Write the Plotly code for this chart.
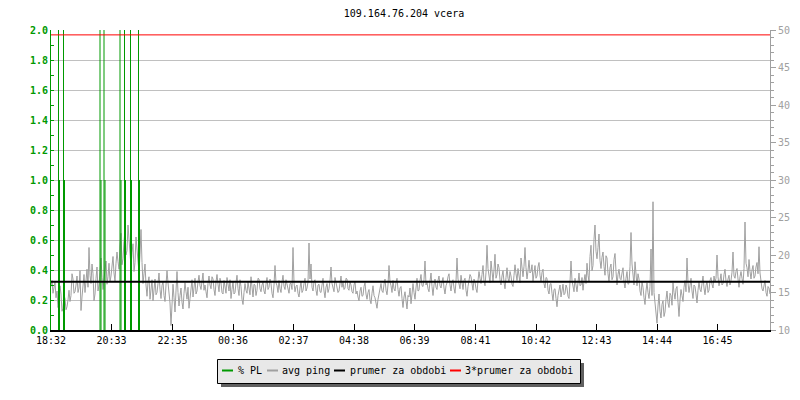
import plotly.graph_objects as go
import pandas as pd

# ---------------- data ----------------
title_text = "109.164.76.204 vcera"
range_start = "2024-01-01 18:32"
range_end = "2024-01-02 18:30"
tick_labels = ["18:32", "20:33", "22:35", "00:36", "02:37", "04:38",
               "06:39", "08:41", "10:42", "12:43", "14:44", "16:45"]

ping_step_min = 2  # one reading every 2 minutes from range_start (ms)
ping_ms = [
    15.8, 16.6, 14.9, 15.5, 16.4, 14.3, 15.2, 13.0, 13.6, 15.9, 14.8, 12.5, 12.9, 14.6, 14.2, 12.7, 13.1, 14.0, 15.3, 13.8, 14.6, 17.5, 16.8, 14.9, 15.1, 16.0, 17.2, 15.0, 15.6, 17.9,
    12.6, 14.4, 16.3, 17.4, 15.0, 16.6, 18.1, 15.7, 21.0, 17.3, 16.2, 18.8, 17.5, 13.9, 14.8, 16.9, 18.4, 15.2, 16.0, 17.7, 19.6, 17.0, 15.4, 16.8, 17.8, 19.2, 16.1, 17.1, 18.9, 16.4,
    17.2, 18.5, 19.8, 17.6, 16.5, 18.9, 20.4, 19.1, 18.1, 21.2, 22.9, 18.7, 19.5, 21.8, 23.3, 20.0, 20.6, 24.0, 22.1, 19.4, 18.4, 20.3, 21.5, 17.8, 19.0, 22.4, 20.7, 18.2, 17.6, 20.1,
    23.4, 19.0, 16.2, 17.5, 18.8, 16.0, 14.5, 16.4, 17.1, 14.1, 15.3, 16.7, 13.9, 15.5, 16.8, 14.7, 15.0, 16.2, 17.6, 15.4, 14.2, 15.9, 16.5, 14.6, 13.8, 16.0, 17.9, 16.3, 15.2, 13.6,
    10.6, 13.5, 16.1, 14.3, 12.4, 15.2, 17.8, 15.0, 13.2, 14.6, 15.6, 13.7, 12.8, 14.9, 16.3, 15.1, 14.1, 15.7, 12.9, 14.2, 15.8, 16.7, 14.4, 15.5, 16.9, 14.8, 15.2, 16.4, 17.3, 15.9,
    15.4, 16.5, 17.6, 15.3, 16.0, 15.1, 14.3, 16.2, 17.2, 16.0, 15.5, 17.1, 16.8, 15.4, 14.6, 16.4, 17.4, 16.1, 15.1, 16.9, 16.3, 15.0, 14.8, 16.6, 15.9, 14.9, 17.0, 16.2, 15.2, 16.7,
    14.2, 15.4, 16.5, 14.8, 15.0, 16.3, 17.3, 15.5, 14.6, 16.7, 15.8, 14.1, 13.4, 15.0, 16.2, 15.3, 14.9, 16.4, 15.6, 14.7, 17.1, 15.8, 14.4, 16.1, 16.0, 14.6, 15.3, 16.9, 16.8, 15.5,
    15.1, 16.0, 16.4, 15.2, 14.8, 16.1, 17.0, 15.4, 15.7, 16.8, 16.2, 14.9, 14.3, 16.0, 18.6, 16.3, 15.9, 15.0, 16.6, 15.5, 15.0, 16.4, 17.3, 15.8, 15.4, 16.7, 16.1, 15.1, 14.9, 16.2,
    16.2, 15.4, 21.0, 16.3, 15.1, 15.8, 16.0, 14.9, 14.4, 15.6, 16.5, 15.0, 15.3, 16.2, 16.9, 15.2, 15.6, 16.4, 21.6, 16.8, 18.8, 15.7, 15.2, 16.5, 16.7, 15.3, 14.6, 16.0, 16.1, 15.1,
    15.0, 16.0, 16.9, 15.2, 14.3, 15.7, 16.2, 15.0, 15.5, 16.6, 18.4, 16.2, 15.8, 15.1, 17.0, 16.3, 16.1, 15.0, 15.2, 16.5, 17.2, 15.7, 16.4, 15.4, 15.6, 16.9, 16.8, 15.5, 15.3, 16.4,
    16.0, 15.1, 14.9, 16.0, 16.5, 14.8, 15.2, 14.4, 13.9, 15.2, 15.7, 14.5, 14.6, 15.8, 16.3, 14.8, 14.1, 15.0, 15.4, 14.0, 13.5, 14.9, 15.9, 14.6, 14.3, 13.6, 12.9, 14.1, 14.8, 15.9,
    16.2, 15.2, 15.0, 16.1, 16.8, 15.3, 14.7, 16.0, 18.6, 16.4, 15.9, 15.0, 16.6, 15.5, 15.2, 16.3, 16.9, 15.4, 14.5, 15.6, 15.8, 14.2, 13.0, 14.4, 15.1, 13.9, 12.8, 14.6, 14.4, 15.6,
    13.5, 14.8, 16.2, 15.0, 14.1, 15.6, 16.9, 15.2, 15.3, 16.6, 17.4, 15.9, 15.8, 16.7, 19.2, 16.0, 16.4, 15.5, 15.1, 16.5, 17.6, 15.8, 14.6, 16.0, 16.8, 15.7, 15.4, 16.6, 17.2, 15.9,
    15.6, 16.4, 17.0, 15.6, 14.8, 15.9, 16.3, 17.1, 17.5, 16.0, 15.2, 16.4, 16.7, 15.6, 14.9, 16.5, 19.6, 16.8, 16.1, 15.5, 17.3, 16.2, 15.4, 16.6, 16.9, 15.3, 14.5, 15.8, 16.6, 17.4,
    17.1, 16.0, 15.3, 16.8, 16.4, 15.5, 15.0, 16.6, 17.8, 16.9, 16.2, 17.4, 18.6, 16.5, 15.9, 17.7, 21.3, 18.2, 17.0, 16.3, 19.2, 17.6, 16.5, 18.0, 20.1, 16.9, 17.4, 18.8, 18.3, 16.7,
    16.0, 17.2, 17.9, 16.4, 15.5, 17.0, 18.3, 16.9, 16.4, 17.8, 17.2, 16.1, 15.8, 17.3, 18.7, 17.5, 16.6, 18.2, 17.5, 16.3, 19.6, 18.1, 17.1, 18.5, 21.0, 18.3, 16.8, 17.9, 19.3, 17.6,
    17.8, 18.7, 16.5, 17.6, 18.6, 16.9, 17.2, 18.4, 19.0, 17.3, 16.4, 17.7, 18.1, 16.2, 15.6, 17.0, 16.9, 15.3, 14.8, 16.1, 16.2, 14.9, 13.9, 15.4, 15.5, 14.2, 13.1, 14.6, 15.2, 16.0,
    14.4, 15.3, 16.1, 14.7, 14.9, 16.0, 15.6, 14.5, 14.2, 16.4, 19.2, 16.6, 15.8, 15.1, 16.9, 15.6, 15.1, 16.3, 17.6, 15.9, 16.0, 17.0, 15.3, 16.5, 17.4, 16.2, 18.9, 17.3, 16.5, 19.8,
    21.3, 17.9, 18.6, 22.1, 24.0, 20.5, 19.5, 21.0, 22.8, 19.3, 18.2, 19.7, 20.4, 18.5, 17.3, 19.9, 19.6, 17.5, 16.4, 18.3, 18.8, 16.7, 17.1, 19.4, 20.2, 17.8, 16.0, 17.4, 18.1, 16.9,
    16.7, 17.6, 18.3, 16.4, 15.6, 16.9, 17.8, 16.1, 16.2, 18.5, 23.0, 18.8, 17.4, 16.0, 19.1, 17.2, 15.9, 17.5, 16.8, 15.2, 14.6, 16.4, 15.7, 14.3, 13.4, 15.2, 16.3, 15.0, 14.2, 15.8,
    20.8, 14.6, 27.1, 15.0, 13.5, 12.1, 10.9, 13.2, 14.8, 12.5, 11.6, 13.4, 13.9, 11.8, 12.4, 14.1, 15.2, 13.6, 13.0, 14.9, 14.6, 13.3, 16.3, 15.0, 14.1, 15.5, 15.8, 13.7, 11.8, 14.0,
    15.4, 14.6, 13.8, 15.7, 16.6, 15.1, 19.6, 16.3, 15.0, 15.9, 16.9, 15.2, 14.2, 16.0, 15.8, 14.8, 13.6, 15.3, 16.4, 15.4, 15.1, 16.2, 17.2, 15.6, 14.7, 15.9, 16.5, 15.0, 15.3, 16.6,
    17.0, 16.1, 15.6, 17.2, 16.4, 16.9, 20.0, 17.1, 15.9, 16.6, 17.5, 16.0, 16.2, 17.4, 18.1, 16.5, 15.8, 16.8, 17.3, 16.0, 16.6, 17.7, 20.4, 17.2, 16.9, 17.8, 18.2, 16.8, 15.7, 17.1,
    17.8, 16.9, 16.1, 18.2, 24.4, 18.9, 18.3, 17.1, 19.4, 17.8, 16.8, 18.0, 18.6, 16.9, 17.2, 18.4, 19.0, 17.5, 21.1, 17.6, 16.4, 15.5, 15.2, 16.3, 16.6, 15.0, 14.5, 15.8, 15.6, 14.8,
]

# packet-loss events: minute offset from range_start, loss value, value 2 minutes later
pl_minutes = [15, 25, 98, 106, 138, 147, 159, 175]
pl_first = [3.0, 3.0, 3.0, 3.0, 3.0, 3.0, 3.0, 3.0]
pl_next = [1.0, 1.0, 1.0, 1.0, 1.0, 1.0, 1.0, 1.0]

mean_ms = 16.45  # prumer za obdobi

legend_names = ["% PL", "avg ping", "prumer za obdobi", "3*prumer za obdobi"]
legend_colors = ["#009900", "#a0a0a0", "#000000", "#ff0000"]

# ---------------- derived ----------------
t0 = pd.Timestamp(range_start)
t1 = pd.Timestamp(range_end)
ping_x = [t0 + pd.Timedelta(minutes=ping_step_min * i) for i in range(len(ping_ms))]

tick_vals = []
for lab in tick_labels:
    h, m = map(int, lab.split(":"))
    dt = t0.normalize() + pd.Timedelta(hours=h, minutes=m)
    if dt < t0:
        dt += pd.Timedelta(days=1)
    tick_vals.append(dt)

pl_x, pl_y = [], []
for m, a, b in zip(pl_minutes, pl_first, pl_next):
    ta = t0 + pd.Timedelta(minutes=m)
    tb = t0 + pd.Timedelta(minutes=m + 2)
    pl_x += [ta, ta, None, tb, tb, None]
    pl_y += [0, a, None, 0, b, None]

MONO = "DejaVu Sans Mono"
OFF = 8  # default page body margin
W, H = 800 - OFF, 400 - OFF
L, R, T, B = 51 - OFF, 30, 30 - OFF, 70
PW, PH = W - L - R, H - T - B


def px(x):
    return (x - OFF - L) / PW


def py(y):
    return (H - B - (y - OFF)) / PH


fig = go.Figure()
fig.add_trace(go.Scatter(x=ping_x, y=ping_ms, mode="lines", yaxis="y",
                         line=dict(color="#a0a0a0", width=1), showlegend=False,
                         name="avg ping"))
fig.add_trace(go.Scatter(x=pl_x, y=pl_y, mode="lines", yaxis="y2",
                         line=dict(color="#009900", width=1), showlegend=False,
                         connectgaps=False, name="% PL"))
fig.add_trace(go.Scatter(x=[t0, t1], y=[mean_ms, mean_ms], mode="lines", yaxis="y3",
                         line=dict(color="#000000", width=2), showlegend=False,
                         name="prumer za obdobi"))
fig.add_trace(go.Scatter(x=[t0, t1], y=[3 * mean_ms, 3 * mean_ms], mode="lines", yaxis="y3",
                         line=dict(color="#ff0000", width=1), showlegend=False,
                         name="3*prumer za obdobi"))

fig.update_layout(
    width=W, height=H,
    margin=dict(l=L, r=R, t=T, b=B, autoexpand=False),
    paper_bgcolor="white", plot_bgcolor="white",
    showlegend=False,
    font=dict(family=MONO, size=10, color="black"),
    title=dict(text=title_text, x=0.5, xanchor="center", y=1 - (13 - OFF) / H, yanchor="middle",
               yref="container", font=dict(family=MONO, size=10, color="black")),
    xaxis=dict(type="date", range=[t0, t1], tickvals=tick_vals, ticktext=tick_labels,
               ticks="inside", ticklen=6, tickcolor="black", tickwidth=1,
               showline=True, linecolor="black", linewidth=2, showgrid=False,
               zeroline=False, automargin=False,
               tickfont=dict(family=MONO, size=10, color="black")),
    yaxis=dict(range=[10, 50], side="right", dtick=5, showgrid=False, zeroline=False,
               showline=True, linecolor="#a0a0a0", linewidth=1, automargin=False,
               ticks="outside", ticklen=5, tickcolor="#a0a0a0",
               minor=dict(dtick=1, ticks="outside", ticklen=3, tickcolor="#a0a0a0"),
               tickfont=dict(family=MONO, size=10, color="#a0a0a0")),
    yaxis2=dict(range=[0, 2], side="left", overlaying="y", dtick=0.2, tickformat=".1f",
                showgrid=True, gridcolor="#c0c0c0", gridwidth=1, zeroline=False,
                showline=True, linecolor="#009900", linewidth=1, automargin=False,
                ticks="inside", ticklen=3, tickcolor="#009900",
                minor=dict(dtick=0.1, ticks="inside", ticklen=3, tickcolor="#009900"),
                tickfont=dict(family=MONO, size=10, color="#009900", weight="bold")),
    yaxis3=dict(range=[10, 50], overlaying="y", side="right", visible=False),
)

# manual legend box with shadow
shapes = [
    dict(type="rect", xref="paper", yref="paper", x0=px(221), x1=px(584), y0=py(363), y1=py(387),
         fillcolor="#606060", line=dict(width=0), layer="above"),
    dict(type="rect", xref="paper", yref="paper", x0=px(217.5), x1=px(580.5), y0=py(359.5), y1=py(383.5),
         fillcolor="#e8e8e8", line=dict(color="black", width=1), layer="above"),
]
sample_x = [222, 267, 334, 450]
text_x = [236, 280, 348, 463]
ly = 370.5
annotations = []
for sx, tx, name, col in zip(sample_x, text_x, legend_names, legend_colors):
    shapes.append(dict(type="line", xref="paper", yref="paper", x0=px(sx), x1=px(sx + 11),
                       y0=py(ly), y1=py(ly), line=dict(color=col, width=2), layer="above"))
    annotations.append(dict(text=name, xref="paper", yref="paper", x=px(tx), y=py(ly),
                            xanchor="left", yanchor="middle", showarrow=False,
                            font=dict(family=MONO, size=10, color="black")))
fig.update_layout(shapes=shapes, annotations=annotations)

fig.write_html("out.html")
